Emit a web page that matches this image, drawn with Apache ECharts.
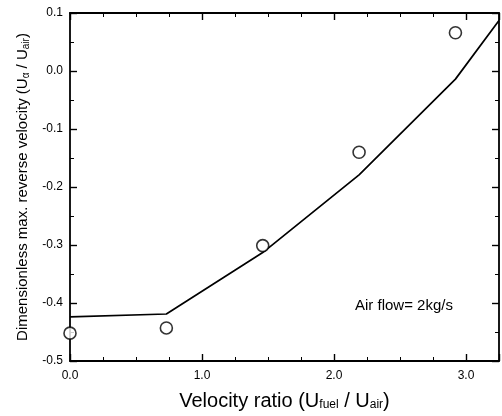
<!DOCTYPE html>
<html>
<head>
<meta charset="utf-8">
<script src="https://cdn.jsdelivr.net/npm/echarts@6/dist/echarts.min.js"></script>
<style>
  html, body { margin: 0; padding: 0; background: #fff; }
  #chart { width: 502px; height: 416px; }
</style>
</head>
<body>
<div id="chart"></div>
<script>
// Measured points: velocity ratio vs. dimensionless max. reverse velocity
const measuredX = [0.0, 0.73, 1.46, 2.19, 2.92];
const measuredY = [-0.452, -0.443, -0.301, -0.140, 0.066];

// Predicted curve
const modelX = [0.0, 0.73, 1.46, 2.19, 2.92, 3.25];
const modelY = [-0.424, -0.419, -0.313, -0.179, -0.014, 0.087];

const xTicks = { min: 0, max: 3.25, interval: 1 };
const yTicks = { min: -0.5, max: 0.1, interval: 0.1 };

const annotation = 'Air flow= 2kg/s';

const font = '"Liberation Sans", Arial, sans-serif';
const ink = '#000';

function pairs(xs, ys) { return xs.map((x, i) => [x, ys[i]]); }

function axisCommon(showLabel, isX) {
  return {
    type: 'value',
    min: isX ? xTicks.min : yTicks.min,
    max: isX ? xTicks.max : yTicks.max,
    interval: isX ? xTicks.interval : yTicks.interval,
    axisLine: { show: true, onZero: false, lineStyle: { color: ink, width: 1.8 } },
    axisTick: { show: true, inside: true, length: 7, lineStyle: { color: ink, width: 1.4 } },
    minorTick: { show: true, splitNumber: isX ? 4 : 2, length: 4, lineStyle: { color: ink, width: 1 } },
    splitLine: { show: false },
    minorSplitLine: { show: false },
    axisLabel: {
      show: showLabel,
      showMaxLabel: isX ? false : true,
      color: ink,
      fontFamily: font,
      fontSize: 12,
      margin: isX ? 9 : 7,
      formatter: v => (Math.abs(v) < 1e-9 ? 0 : v).toFixed(1)
    }
  };
}

const chart = echarts.init(document.getElementById('chart'), null, { renderer: 'canvas' });

chart.setOption({
  animation: false,
  backgroundColor: '#fff',
  grid: { left: 70, right: 3, top: 13, bottom: 55 },
  xAxis: [
    Object.assign(axisCommon(true, true), {
      position: 'bottom',
      name: 'Velocity ratio (U{sub|fuel} / U{sub|air})',
      nameLocation: 'middle',
      nameGap: 30,
      nameTextStyle: {
        fontSize: 20, fontFamily: font, color: ink,
        rich: { sub: { fontSize: 12, fontFamily: font, color: ink, padding: [8, 0, 0, 0] } }
      }
    }),
    Object.assign(axisCommon(false, true), { position: 'top' })
  ],
  yAxis: [
    Object.assign(axisCommon(true, false), {
      position: 'left',
      name: 'Dimensionless max. reverse velocity (U{sub|α} / U{sub|air})',
      nameLocation: 'middle',
      nameRotate: 90,
      nameGap: 37,
      nameTextStyle: {
        fontSize: 15, fontFamily: font, color: ink,
        rich: { sub: { fontSize: 10, fontFamily: font, color: ink, padding: [7, 0, 0, 0] } }
      }
    }),
    Object.assign(axisCommon(false, false), { position: 'right' })
  ],
  series: [
    {
      type: 'line',
      data: pairs(modelX, modelY),
      showSymbol: false,
      lineStyle: { color: ink, width: 1.7 },
      z: 2
    },
    {
      type: 'scatter',
      data: pairs(measuredX, measuredY),
      symbol: 'circle',
      symbolSize: 12,
      itemStyle: { color: '#fff', borderColor: ink, borderWidth: 1.6 },
      z: 3
    }
  ],
  graphic: [
    {
      type: 'text',
      left: 355,
      top: 298,
      style: { text: annotation, fontSize: 15, fontFamily: font, fill: ink }
    }
  ]
});
</script>
</body>
</html>
